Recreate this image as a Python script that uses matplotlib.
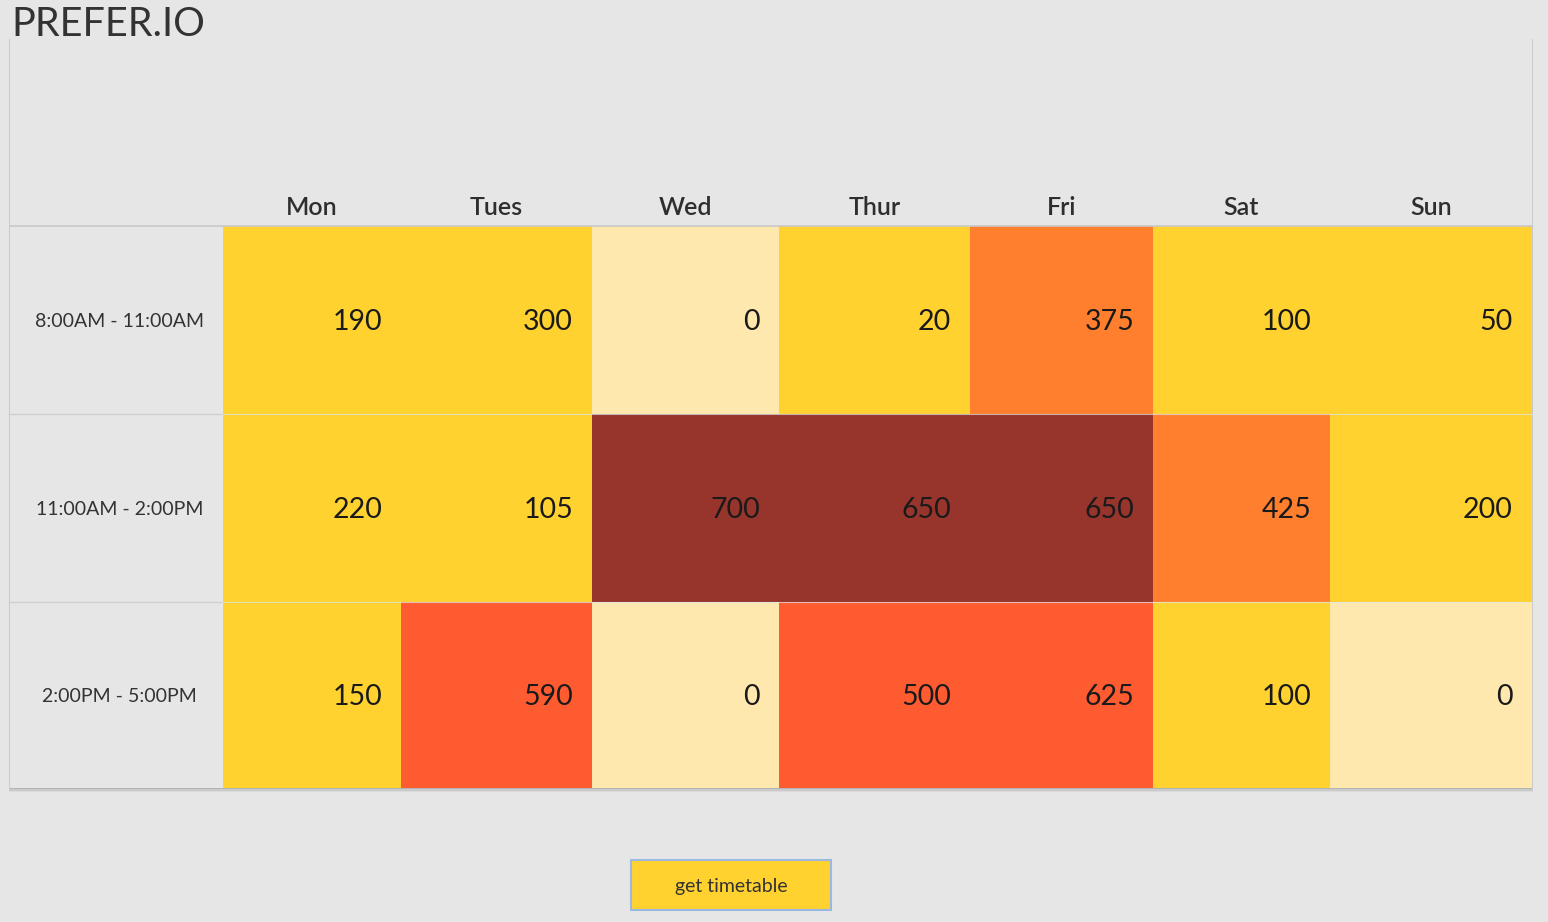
import numpy as np
import matplotlib
matplotlib.use('Agg')
from matplotlib import pyplot as plt
from matplotlib.colors import ListedColormap, BoundaryNorm
from matplotlib.patches import Rectangle

# data
days = ['Mon', 'Tues', 'Wed', 'Thur', 'Fri', 'Sat', 'Sun']
slots = ['8:00AM - 11:00AM', '11:00AM - 2:00PM', '2:00PM - 5:00PM']
counts = [
    [190, 300, 0, 20, 375, 100, 50],
    [220, 105, 700, 650, 650, 425, 200],
    [150, 590, 0, 500, 625, 100, 0],
]

# colour bins
bin_edges = [0, 1, 350, 500, 650, 10000]
bin_colors = ['#ffe8ae', '#ffd230', '#ff7f2f', '#ff5b31', '#97342b']

# layout (pixels)
W, H = 1548, 922
BG = '#e6e6e6'
panel_x0, panel_x1, panel_y0, panel_y1 = 10, 1532, 38, 788
header_y = 226
col_widths = [178, 191, 187, 191, 183, 177, 202]
row_heights = [188, 188, 186]
table_x0 = panel_x1 - sum(col_widths)

fig = plt.figure(figsize=(W / 100, H / 100), dpi=100, facecolor=BG)
ax = fig.add_axes([0, 0, 1, 1])
ax.set_xlim(0, W)
ax.set_ylim(H, 0)
ax.axis('off')

# panel with a soft shadow
for off, a in [(3, 0.10), (2, 0.18), (1, 0.30)]:
    ax.add_patch(Rectangle((panel_x0 - off * 0.3, panel_y0 + off * 0.3),
                           panel_x1 - panel_x0 + off * 0.6,
                           panel_y1 - panel_y0 + off,
                           facecolor='#808080', alpha=a, edgecolor='none', zorder=1))
ax.add_patch(Rectangle((panel_x0, panel_y0), panel_x1 - panel_x0, panel_y1 - panel_y0,
                       facecolor=BG, edgecolor='none', zorder=2))

ax.text(11, 36, 'PREFER.IO', fontsize=28.5, family='Lato', color='#333333',
        ha='left', va='baseline', zorder=5)

# heatmap cells
xe = table_x0 + np.concatenate([[0], np.cumsum(col_widths)])
ye = header_y + np.concatenate([[0], np.cumsum(row_heights)])
cmap = ListedColormap(bin_colors)
norm = BoundaryNorm(bin_edges, cmap.N)
ax.pcolormesh(xe, ye, np.array(counts), cmap=cmap, norm=norm, zorder=3)

# grid lines
ax.plot([panel_x0, panel_x1], [header_y, header_y], color='#c8c8c8', lw=1.2, zorder=4)
for y in ye[1:-1]:
    ax.plot([panel_x0, table_x0], [y, y], color='#cfcfcf', lw=1.0, zorder=4)
    ax.plot([table_x0, panel_x1], [y, y], color='#dde6ee', lw=0.8, alpha=0.7, zorder=4)

# header labels
for j, d in enumerate(days):
    ax.text((xe[j] + xe[j + 1]) / 2, header_y - 11, d, fontsize=18, family='Lato',
            fontweight='semibold', color='#2e2e2e', ha='center', va='baseline', zorder=5)

# row labels and values
for i, s in enumerate(slots):
    yc = (ye[i] + ye[i + 1]) / 2
    ax.text((panel_x0 + table_x0) / 2 + 3, yc + 1, s, fontsize=14, family='Lato',
            color='#333333', ha='center', va='center', zorder=5)
    for j, v in enumerate(counts[i]):
        ax.text(xe[j + 1] - 19, yc + 2, str(v), fontsize=20.5, family='Lato',
                color='#1a1a1a', ha='right', va='center', zorder=5)

# button
ax.add_patch(Rectangle((631, 860), 200, 50, facecolor='#ffd230', edgecolor='#9ab8e0',
                       lw=1.5, zorder=3))
ax.text(731, 886, 'get timetable', fontsize=14, family='Lato', color='#333333',
        ha='center', va='center', zorder=5)

fig.savefig('out.png', dpi=100, facecolor=BG)
